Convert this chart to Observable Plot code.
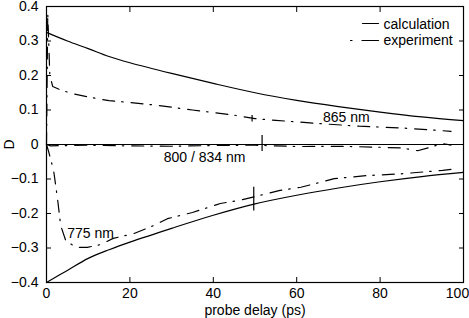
<!DOCTYPE html>
<html><head><meta charset="utf-8">
<script src="https://cdn.jsdelivr.net/npm/d3@7"></script>
<script src="https://cdn.jsdelivr.net/npm/@observablehq/plot@0.6"></script>
<style>body{margin:0;background:#fff}</style>
</head><body><div id="chart"></div>
<script>
// ---- data ----
const xTicks = [0, 20, 40, 60, 80, 100];
const xTickLabels = ["0", "20", "40", "60", "80", "100"];
const yTicks = [-0.4, -0.3, -0.2, -0.1, 0, 0.1, 0.2, 0.3, 0.4];
const yTickLabels = ["\u22120.4", "\u22120.3", "\u22120.2", "\u22120.1", "0", "0.1", "0.2", "0.3", "0.4"];

const calcX = [0, 5, 10, 15, 20, 30, 40, 50, 60, 70, 80, 90, 100];
const calc865 = [0.325, 0.300, 0.278, 0.255, 0.237, 0.206, 0.177, 0.150, 0.128, 0.110, 0.094, 0.080, 0.069];
const calc775 = [-0.400, -0.365, -0.330, -0.305, -0.283, -0.243, -0.205, -0.172, -0.147, -0.126, -0.108, -0.093, -0.081];

const exp865X = [0, 0.3, 0.8, 1.5, 3, 6, 10, 15, 20, 27, 35, 45, 50, 55, 65, 75, 85, 95, 97];
const exp865Y = [0, 0.38, 0.2, 0.168, 0.16, 0.148, 0.138, 0.127, 0.122, 0.113, 0.1, 0.085, 0.075, 0.07, 0.061, 0.053, 0.048, 0.04, 0.038];

const exp800X = [0, 1, 5, 10, 20, 30, 40, 50, 55, 60, 70, 80, 85, 89, 92, 95, 97];
const exp800Y = [0, -0.004, -0.003, -0.002, -0.004, -0.005, -0.003, -0.002, -0.004, -0.006, -0.005, -0.008, -0.01, -0.018, -0.008, 0.003, -0.002];

const exp775X = [0, 0.5, 1.7, 2.6, 3.4, 4.6, 7, 9.8, 13, 16, 21, 25.7, 29, 35, 41.7, 47, 53, 56, 61, 69, 77, 85, 95, 97];
const exp775Y = [0, -0.02, -0.075, -0.153, -0.235, -0.278, -0.298, -0.298, -0.29, -0.272, -0.258, -0.235, -0.215, -0.197, -0.171, -0.16, -0.142, -0.133, -0.124, -0.099, -0.09, -0.085, -0.075, -0.072];

const errX = [49.3, 51.7, 49.7];
const errLo = [0.065, -0.02, -0.193];
const errHi = [0.084, 0.026, -0.124];

const labelText = ["865 nm", "800 / 834 nm", "775 nm"];
const labelX = [71.9, 37.9, 10.55];
const labelY = [0.077, -0.038, -0.257];

const legendNames = ["calculation", "experiment"];

// ---- build tables ----
const zip = (xs, ys) => xs.map((x, i) => ({x, y: ys[i]}));
const calcA = zip(calcX, calc865), calcB = zip(calcX, calc775);
const expA = zip(exp865X, exp865Y), expB = zip(exp800X, exp800Y), expC = zip(exp775X, exp775Y);
const errs = errX.map((x, i) => ({x, y1: errLo[i], y2: errHi[i]}));
const labels = labelText.map((t, i) => ({t, x: labelX[i], y: labelY[i]}));
const xFmt = d => xTickLabels[xTicks.indexOf(d)];

const DASHDOT = "12,7,1.5,8";
const lineShape = {draw(ctx, l) { ctx.moveTo(0, 0); ctx.lineTo(0, -l); }};

const chart = Plot.plot({
  width: 469, height: 318,
  marginLeft: 46, marginRight: 6, marginTop: 6, marginBottom: 36,
  style: {fontFamily: "'Liberation Sans', Arial, sans-serif", fontSize: "14px", background: "white", color: "black", overflow: "visible"},
  x: {domain: [0, 100]},
  y: {domain: [-0.4, 0.4]},
  marks: [
    Plot.ruleY([0], {stroke: "black", strokeWidth: 1.2}),
    Plot.line(calcA, {x: "x", y: "y", curve: "catmull-rom", stroke: "black", strokeWidth: 1.2}),
    Plot.line(calcB, {x: "x", y: "y", curve: "catmull-rom", stroke: "black", strokeWidth: 1.2}),
    Plot.line(expA, {x: "x", y: "y", stroke: "black", strokeWidth: 1.2, strokeDasharray: DASHDOT}),
    Plot.line(expB, {x: "x", y: "y", stroke: "black", strokeWidth: 1.2, strokeDasharray: DASHDOT}),
    Plot.line(expC, {x: "x", y: "y", stroke: "black", strokeWidth: 1.2, strokeDasharray: DASHDOT}),
    Plot.ruleX(errs, {x: "x", y1: "y1", y2: "y2", stroke: "black", strokeWidth: 1.2}),
    Plot.text(labels, {x: "x", y: "y", text: "t", fill: "black"}),
    // legend
    Plot.vector([0], {frameAnchor: "top-right", dx: -101, dy: 17, length: 16, rotate: 90, anchor: "start", shape: lineShape, stroke: "black", strokeWidth: 1.2}),
    Plot.vector([0], {frameAnchor: "top-right", dx: -113, dy: 34, length: 28, rotate: 90, anchor: "start", shape: lineShape, stroke: "black", strokeWidth: 1.2, strokeDasharray: "1.5,10,16.5"}),
    Plot.text([legendNames[0]], {frameAnchor: "top-right", dx: -80, dy: 18, textAnchor: "start", lineAnchor: "middle", fill: "black"}),
    Plot.text([legendNames[1]], {frameAnchor: "top-right", dx: -80, dy: 34, textAnchor: "start", lineAnchor: "middle", fill: "black"}),
    // axes: ticks
    Plot.axisX(xTicks, {anchor: "bottom", tickSize: -5, tickFormat: () => "", label: null}),
    Plot.axisX(xTicks, {anchor: "top", tickSize: -5, tickFormat: () => "", label: null}),
    Plot.axisY(yTicks, {anchor: "left", tickSize: -5, tickFormat: () => "", label: null}),
    Plot.axisY(yTicks, {anchor: "right", tickSize: -5, tickFormat: () => "", label: null}),
    // axes: labels
    Plot.axisX(xTicks.slice(0, 5), {anchor: "bottom", tickSize: 0, tickPadding: 6, tickFormat: xFmt, label: "probe delay (ps)", labelAnchor: "center", labelArrow: "none", labelOffset: 32}),
    Plot.axisX(xTicks.slice(5), {anchor: "bottom", tickSize: 0, tickPadding: 6, dx: -6, tickFormat: xFmt, label: null}),
    Plot.axisY(yTicks, {anchor: "left", tickSize: 0, tickPadding: 8, tickFormat: d => yTickLabels[yTicks.indexOf(d)], label: "D", labelAnchor: "center", labelArrow: "none", labelOffset: 42}),
    Plot.frame({stroke: "black", strokeWidth: 1.2})
  ]
});
document.getElementById("chart").appendChild(chart);
</script>
</body></html>
